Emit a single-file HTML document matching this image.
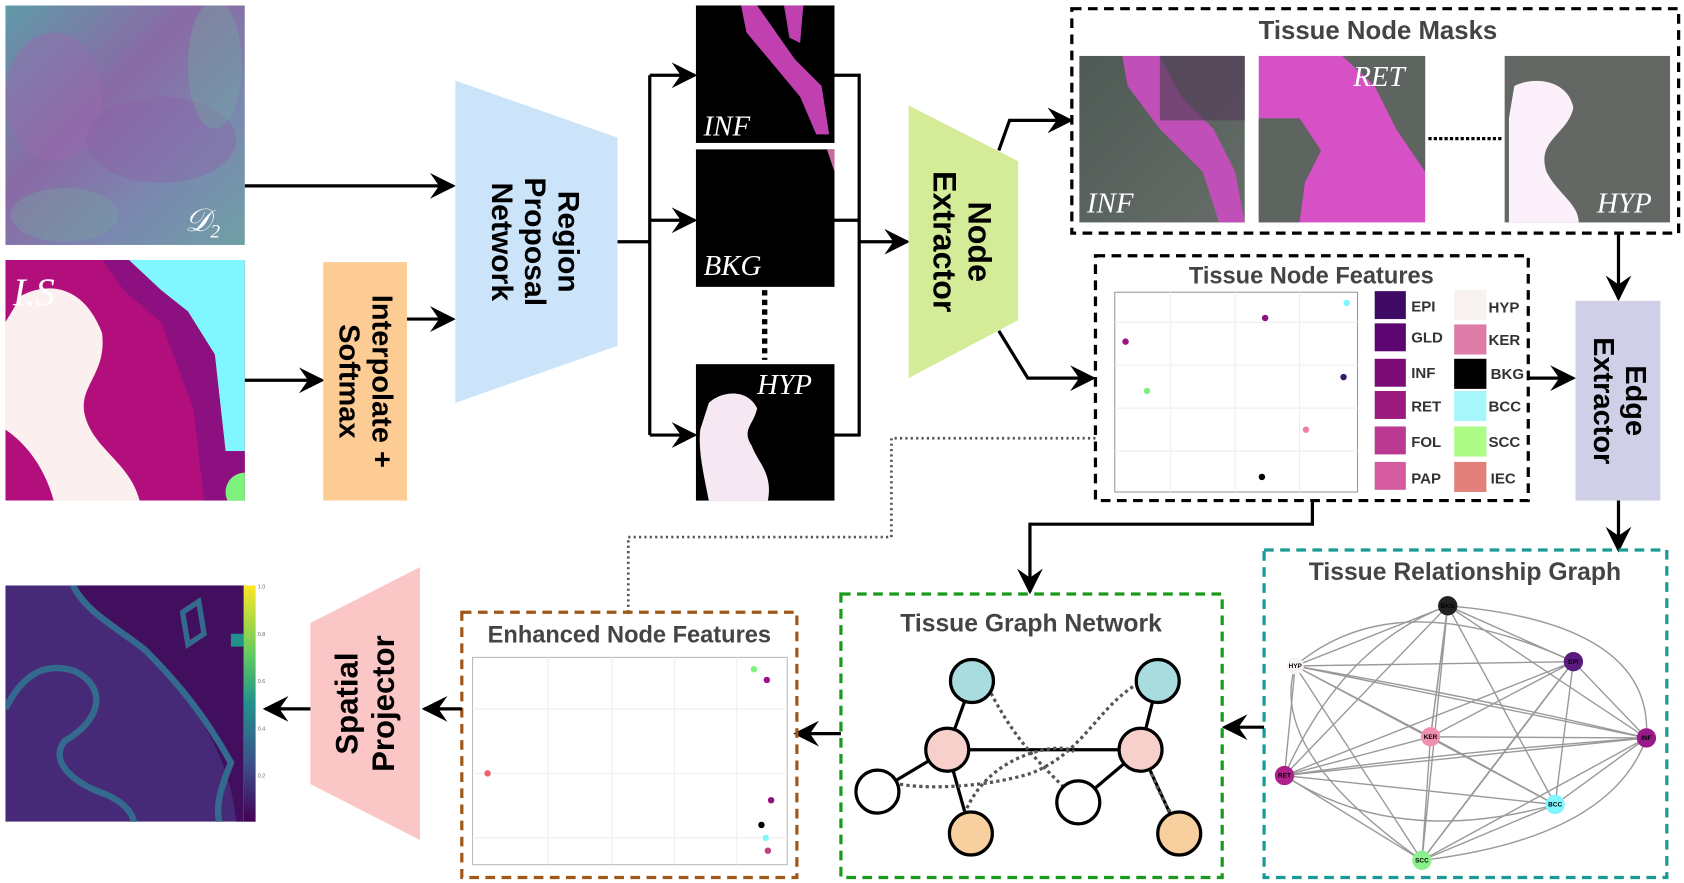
<!DOCTYPE html>
<html><head><meta charset="utf-8"><style>
html,body{margin:0;padding:0;background:#fff;}
svg{display:block;font-family:"Liberation Sans",sans-serif;}
</style></head><body>
<svg width="1684" height="883" viewBox="0 0 1568 822" xmlns="http://www.w3.org/2000/svg">
<defs>
<marker id="AH" viewBox="0 0 10 10" refX="9" refY="5" markerWidth="24" markerHeight="24" markerUnits="userSpaceOnUse" orient="auto">
<path d="M0,0 L10,5 L0,10 L3.5,5 z" fill="#000"/></marker>
<linearGradient id="d2" x1="0" y1="0" x2="1" y2="1">
<stop offset="0" stop-color="#5f9aa8"/><stop offset="0.4" stop-color="#8a6aa5"/><stop offset="0.7" stop-color="#7a88b0"/><stop offset="1" stop-color="#6fa0a6"/></linearGradient>
<linearGradient id="tis" x1="0" y1="0" x2="1" y2="1"><stop offset="0" stop-color="#4e5a55"/><stop offset="1" stop-color="#676d68"/></linearGradient>
<linearGradient id="cb" x1="0" y1="0" x2="0" y2="1"><stop offset="0" stop-color="#fde725"/><stop offset="0.3" stop-color="#5ec962"/><stop offset="0.5" stop-color="#21918c"/><stop offset="0.75" stop-color="#3b528b"/><stop offset="1" stop-color="#440154"/></linearGradient>
<clipPath id="cIS"><rect x="5" y="242" width="223" height="224"/></clipPath>
<clipPath id="cD2"><rect x="5" y="5" width="223" height="223"/></clipPath>
<clipPath id="cHM"><rect x="5" y="545" width="222" height="220"/></clipPath>
</defs>

<!-- D2 image -->
<g clip-path="url(#cD2)">
<rect x="5" y="5" width="223" height="223" fill="url(#d2)"/>
<ellipse cx="50" cy="90" rx="45" ry="60" fill="#9a6ab0" opacity="0.45"/>
<ellipse cx="150" cy="130" rx="70" ry="40" fill="#8e5fa8" opacity="0.4"/>
<ellipse cx="200" cy="60" rx="25" ry="60" fill="#6fae9c" opacity="0.35"/>
<ellipse cx="60" cy="200" rx="50" ry="25" fill="#6fae9c" opacity="0.3"/>
</g>
<text x="172" y="215" font-family="Liberation Serif,serif" font-style="italic" font-size="30" fill="#fff">𝒟<tspan font-size="18" dy="6">2</tspan></text>

<!-- I.S image -->
<g clip-path="url(#cIS)">
<rect x="5" y="242" width="223" height="224" fill="#b20f7c"/>
<path d="M120,242 L228,242 L228,420 L210,420 L200,330 L175,290 L150,270 Z" fill="#80f7ff"/>
<path d="M95,242 L120,242 L150,270 L175,290 L200,330 L210,420 L228,420 L228,466 L190,466 L180,380 L150,300 L115,270 Z" fill="#8c1080"/>
<path d="M20,275 C50,260 80,270 95,310 C100,350 70,360 80,390 C90,420 120,430 130,466 L50,466 C40,430 20,410 5,400 L5,300 Z" fill="#fbeff0"/>
<circle cx="228" cy="458" r="18" fill="#7cf27c"/>
</g>
<text x="12" y="284" font-family="Liberation Serif,serif" font-style="italic" font-size="36" fill="#fff">I.S</text>

<!-- arrows left -->
<line x1="228" y1="173" x2="422" y2="173" stroke="#000" stroke-width="3" marker-end="url(#AH)"/>
<line x1="228" y1="354" x2="300" y2="354" stroke="#000" stroke-width="3" marker-end="url(#AH)"/>
<line x1="379" y1="297" x2="422" y2="297" stroke="#000" stroke-width="3" marker-end="url(#AH)"/>

<!-- Interpolate -->
<rect x="301" y="244" width="78" height="222" fill="#fdcb94"/>
<text transform="translate(340,355) rotate(90)" text-anchor="middle" font-weight="bold" font-size="27"><tspan x="0" y="-7">Interpolate +</tspan><tspan x="0" y="24">Softmax</tspan></text>

<!-- RPN -->
<polygon points="424,75 575,128 575,322 424,375" fill="#cce4fa"/>
<text transform="translate(497,225) rotate(90)" text-anchor="middle" font-weight="bold" font-size="28"><tspan x="0" y="-23">Region</tspan><tspan x="0" y="8">Proposal</tspan><tspan x="0" y="39">Network</tspan></text>

<!-- splitter -->
<polyline points="575,225 605,225" fill="none" stroke="#000" stroke-width="3"/>
<line x1="605" y1="70" x2="605" y2="405" stroke="#000" stroke-width="3"/>
<line x1="605" y1="70" x2="647" y2="70" stroke="#000" stroke-width="3" marker-end="url(#AH)"/>
<line x1="605" y1="205" x2="647" y2="205" stroke="#000" stroke-width="3" marker-end="url(#AH)"/>
<line x1="605" y1="405" x2="647" y2="405" stroke="#000" stroke-width="3" marker-end="url(#AH)"/>

<!-- masks -->
<rect x="648" y="5" width="129" height="128" fill="#000"/>
<path d="M690,5 L705,5 L740,55 L765,80 L772,125 L760,125 L745,90 L720,60 L695,30 Z" fill="#c040b0"/>
<path d="M730,5 L748,5 L745,40 L735,35 Z" fill="#c040b0"/>
<text x="655" y="126" font-family="Liberation Serif,serif" font-style="italic" font-size="27" fill="#fff">INF</text>
<rect x="648" y="139" width="129" height="128" fill="#000"/>
<path d="M770,139 L777,139 L777,160 Z" fill="#c86aa0"/>
<text x="655" y="256" font-family="Liberation Serif,serif" font-style="italic" font-size="27" fill="#fff">BKG</text>
<line x1="712" y1="270" x2="712" y2="335" stroke="#000" stroke-width="5" stroke-dasharray="5,4"/>
<rect x="648" y="339" width="129" height="127" fill="#000"/>
<path d="M660,375 C670,365 695,360 705,380 C702,395 690,400 700,415 C705,430 720,440 715,466 L660,466 C655,440 650,420 652,400 Z" fill="#f6e8f2"/>
<text x="705" y="367" font-family="Liberation Serif,serif" font-style="italic" font-size="27" fill="#fff">HYP</text>

<!-- merge -->
<polyline points="777,70 800,70 800,405 777,405" fill="none" stroke="#000" stroke-width="3"/>
<line x1="777" y1="205" x2="800" y2="205" stroke="#000" stroke-width="3"/>
<line x1="800" y1="225" x2="845" y2="225" stroke="#000" stroke-width="3" marker-end="url(#AH)"/>

<!-- Node extractor -->
<polygon points="846,98 948,150 948,298 846,352" fill="#d4ec98"/>
<text transform="translate(895,225) rotate(90)" text-anchor="middle" font-weight="bold" font-size="30"><tspan x="0" y="-7">Node</tspan><tspan x="0" y="26">Extractor</tspan></text>
<polyline points="930,140 940,112 997,112" fill="none" stroke="#000" stroke-width="3" marker-end="url(#AH)"/>
<polyline points="930,308 957,352 1018,352" fill="none" stroke="#000" stroke-width="3" marker-end="url(#AH)"/>

<!-- Tissue Node Masks -->
<rect x="998" y="8" width="565" height="209" fill="none" stroke="#000" stroke-width="3" stroke-dasharray="9,6"/>
<text x="1283" y="36" text-anchor="middle" font-weight="bold" font-size="24" fill="#444">Tissue Node Masks</text>
<rect x="1005" y="52" width="154" height="155" fill="url(#tis)"/>
<path d="M1045,52 L1080,52 L1100,90 L1130,120 L1150,160 L1159,207 L1135,207 L1120,160 L1080,120 L1050,80 Z" fill="#c050b8"/>
<rect x="1080" y="52" width="79" height="60" fill="#55405a" opacity="0.7"/>
<text x="1012" y="198" font-family="Liberation Serif,serif" font-style="italic" font-size="27" fill="#fff">INF</text>
<rect x="1172" y="52" width="155" height="155" fill="#d650c6"/>
<path d="M1172,110 L1210,110 L1230,140 L1215,170 L1210,207 L1172,207 Z" fill="#5e6460"/>
<path d="M1250,52 L1327,52 L1327,160 L1300,120 L1280,80 Z" fill="#5e6460"/>
<text x="1260" y="80" font-family="Liberation Serif,serif" font-style="italic" font-size="27" fill="#fff">RET</text>
<line x1="1330" y1="129" x2="1398" y2="129" stroke="#000" stroke-width="3" stroke-dasharray="3,2"/>
<rect x="1401" y="52" width="154" height="155" fill="#646864"/>
<path d="M1410,80 C1430,70 1460,75 1465,100 C1460,125 1430,130 1440,160 C1450,180 1470,190 1470,207 L1405,207 L1405,110 Z" fill="#fcf0fa"/>
<text x="1487" y="198" font-family="Liberation Serif,serif" font-style="italic" font-size="27" fill="#fff">HYP</text>
<line x1="1507" y1="217" x2="1507" y2="278" stroke="#000" stroke-width="3" marker-end="url(#AH)"/>

<!-- Tissue Node Features -->
<rect x="1020" y="238" width="403" height="228" fill="none" stroke="#000" stroke-width="3" stroke-dasharray="9,6"/>
<text x="1221" y="264" text-anchor="middle" font-weight="bold" font-size="22" fill="#444">Tissue Node Features</text>
<rect x="1038" y="272" width="226" height="186" fill="#fff" stroke="#999" stroke-width="1"/>
<g stroke="#eee" stroke-width="1">
<line x1="1038" y1="300" x2="1264" y2="300"/><line x1="1038" y1="340" x2="1264" y2="340"/><line x1="1038" y1="380" x2="1264" y2="380"/><line x1="1038" y1="420" x2="1264" y2="420"/>
<line x1="1090" y1="272" x2="1090" y2="458"/><line x1="1150" y1="272" x2="1150" y2="458"/><line x1="1210" y1="272" x2="1210" y2="458"/></g>
<circle cx="1254" cy="282" r="3" fill="#80f7ff"/><circle cx="1178" cy="296" r="3" fill="#8c1080"/>
<circle cx="1048" cy="318" r="3" fill="#a0108a"/><circle cx="1251" cy="351" r="3" fill="#3c1a6a"/>
<circle cx="1068" cy="364" r="3" fill="#7cf27c"/><circle cx="1216" cy="400" r="3" fill="#f080a8"/>
<circle cx="1175" cy="444" r="3" fill="#000"/>
<g font-weight="bold" font-size="14" fill="#333">
<rect x="1280" y="271" width="29" height="26" fill="#3f0a63"/><text x="1314" y="290">EPI</text>
<rect x="1280" y="301" width="29" height="26" fill="#5c0570"/><text x="1314" y="319">GLD</text>
<rect x="1280" y="334" width="29" height="26" fill="#7b0c76"/><text x="1314" y="352">INF</text>
<rect x="1280" y="364" width="29" height="26" fill="#9a1a7e"/><text x="1314" y="383">RET</text>
<rect x="1280" y="397" width="29" height="26" fill="#ba3a92"/><text x="1314" y="416">FOL</text>
<rect x="1280" y="430" width="29" height="26" fill="#d45c9e"/><text x="1314" y="450">PAP</text>
<rect x="1354" y="270" width="30" height="28" fill="#f8f3f0"/><text x="1386" y="291">HYP</text>
<rect x="1354" y="302" width="30" height="28" fill="#de7ca8"/><text x="1386" y="321">KER</text>
<rect x="1354" y="334" width="30" height="28" fill="#000"/><text x="1388" y="353">BKG</text>
<rect x="1354" y="364" width="30" height="28" fill="#a6f6fb"/><text x="1386" y="383">BCC</text>
<rect x="1354" y="397" width="30" height="28" fill="#aefc88"/><text x="1386" y="416">SCC</text>
<rect x="1354" y="430" width="30" height="28" fill="#e4807c"/><text x="1388" y="450">IEC</text>
</g>
<line x1="1423" y1="352" x2="1465" y2="352" stroke="#000" stroke-width="3" marker-end="url(#AH)"/>

<!-- Edge extractor -->
<rect x="1467" y="280" width="79" height="186" fill="#d0cfe8"/>
<text transform="translate(1506,373) rotate(90)" text-anchor="middle" font-weight="bold" font-size="27"><tspan x="0" y="-8">Edge</tspan><tspan x="0" y="22">Extractor</tspan></text>
<line x1="1507" y1="466" x2="1507" y2="512" stroke="#000" stroke-width="3" marker-end="url(#AH)"/>

<!-- Tissue Relationship Graph -->
<rect x="1177" y="512" width="375" height="305" fill="none" stroke="#1a9a96" stroke-width="3" stroke-dasharray="9,6"/>
<text x="1364" y="540" text-anchor="middle" font-weight="bold" font-size="23" fill="#444">Tissue Relationship Graph</text>
<g stroke="#999" stroke-width="1.3" fill="none">
<path d="M1348,564 L1206,620 L1465,616 L1533,687 L1448,749 L1324,801 L1196,722 L1332,686 Z"/>
<path d="M1348,564 L1465,616 M1348,564 L1533,687 M1348,564 L1448,749 M1348,564 L1324,801 M1348,564 L1196,722 M1348,564 L1332,686"/>
<path d="M1206,620 L1533,687 M1206,620 L1448,749 M1206,620 L1324,801 M1206,620 L1196,722 M1206,620 L1332,686"/>
<path d="M1465,616 L1448,749 M1465,616 L1324,801 M1465,616 L1196,722 M1465,616 L1332,686"/>
<path d="M1533,687 L1324,801 M1533,687 L1196,722 M1533,687 L1332,686 M1448,749 L1196,722 M1448,749 L1332,686 M1324,801 L1332,686"/>
<path d="M1348,564 Q1540,580 1533,687 M1206,620 Q1180,700 1324,801 M1196,722 Q1300,790 1448,749 M1206,620 Q1300,540 1465,616"/>
<path d="M1348,564 Q1250,600 1196,722 M1465,616 Q1400,700 1324,801 M1533,687 Q1500,780 1324,801 M1206,620 Q1380,650 1533,687 M1196,722 Q1350,700 1533,687"/>
</g>
<g font-size="6" font-weight="bold" text-anchor="middle">
<circle cx="1348" cy="564" r="9" fill="#222"/><text x="1348" y="566">BKG</text>
<circle cx="1206" cy="620" r="8" fill="#f8f3f0"/><text x="1206" y="622">HYP</text>
<circle cx="1465" cy="616" r="9" fill="#5a1a80"/><text x="1465" y="618">EPI</text>
<circle cx="1533" cy="687" r="9" fill="#9a1a8a"/><text x="1533" y="689">INF</text>
<circle cx="1332" cy="686" r="9" fill="#f090b0"/><text x="1332" y="688">KER</text>
<circle cx="1196" cy="722" r="9" fill="#b0208a"/><text x="1196" y="724">RET</text>
<circle cx="1448" cy="749" r="9" fill="#80f7ff"/><text x="1448" y="751">BCC</text>
<circle cx="1324" cy="801" r="9" fill="#8cf08c"/><text x="1324" y="803">SCC</text>
</g>
<line x1="1177" y1="677" x2="1140" y2="677" stroke="#000" stroke-width="3" marker-end="url(#AH)"/>

<!-- Tissue Graph Network -->
<polyline points="1222,466 1222,488 959,488 959,551" fill="none" stroke="#000" stroke-width="3" marker-end="url(#AH)"/>
<rect x="783" y="553" width="355" height="264" fill="none" stroke="#1a9a1a" stroke-width="3" stroke-dasharray="9,6"/>
<text x="960" y="588" text-anchor="middle" font-weight="bold" font-size="23" fill="#444">Tissue Graph Network</text>
<g stroke="#000" stroke-width="3">
<line x1="905" y1="634" x2="882" y2="698"/><line x1="1078" y1="634" x2="1062" y2="698"/>
<line x1="882" y1="698" x2="1062" y2="698"/><line x1="882" y1="698" x2="817" y2="737"/>
<line x1="882" y1="698" x2="904" y2="776"/><line x1="1062" y1="698" x2="1004" y2="747"/>
<line x1="1062" y1="698" x2="1098" y2="776"/>
</g>
<g stroke="#555" stroke-width="3" stroke-dasharray="3,3" fill="none">
<path d="M920,640 C950,700 980,720 1004,747"/>
<path d="M1060,636 C1020,660 1010,700 960,720 C910,735 850,735 830,728"/>
<path d="M898,758 C920,700 990,690 1000,700"/>
<path d="M1070,715 C1080,740 1090,760 1098,766"/>
</g>
<g stroke="#000" stroke-width="3">
<circle cx="905" cy="634" r="20" fill="#a8dcde"/><circle cx="1078" cy="634" r="20" fill="#a8dcde"/>
<circle cx="882" cy="698" r="20" fill="#f7d0cc"/><circle cx="1062" cy="698" r="20" fill="#f7d0cc"/>
<circle cx="817" cy="737" r="20" fill="#fff"/><circle cx="1004" cy="747" r="20" fill="#fff"/>
<circle cx="904" cy="776" r="20" fill="#f8d0a0"/><circle cx="1098" cy="776" r="20" fill="#f8d0a0"/>
</g>
<line x1="783" y1="683" x2="741" y2="683" stroke="#000" stroke-width="3" marker-end="url(#AH)"/>

<!-- dotted connector -->
<polyline points="1020,408 830,408 830,500 585,500 585,570" fill="none" stroke="#555" stroke-width="2.5" stroke-dasharray="2,3"/>

<!-- Enhanced Node Features -->
<rect x="430" y="570" width="312" height="247" fill="none" stroke="#a0581a" stroke-width="3" stroke-dasharray="9,6"/>
<text x="586" y="598" text-anchor="middle" font-weight="bold" font-size="22" fill="#444">Enhanced Node Features</text>
<rect x="440" y="612" width="293" height="193" fill="#fff" stroke="#bbb" stroke-width="1"/>
<g stroke="#eee" stroke-width="1">
<line x1="510" y1="612" x2="510" y2="805"/><line x1="570" y1="612" x2="570" y2="805"/><line x1="628" y1="612" x2="628" y2="805"/><line x1="686" y1="612" x2="686" y2="805"/>
<line x1="440" y1="660" x2="733" y2="660"/><line x1="440" y1="720" x2="733" y2="720"/><line x1="440" y1="780" x2="733" y2="780"/></g>
<circle cx="702" cy="623" r="3" fill="#7cf27c"/><circle cx="714" cy="633" r="3" fill="#a0108a"/>
<circle cx="454" cy="720" r="3" fill="#f06070"/><circle cx="718" cy="745" r="3" fill="#8c1080"/>
<circle cx="709" cy="768" r="3" fill="#000"/><circle cx="713" cy="780" r="3" fill="#80f7ff"/><circle cx="715" cy="792" r="3" fill="#c04080"/>
<line x1="430" y1="660" x2="395" y2="660" stroke="#000" stroke-width="3" marker-end="url(#AH)"/>

<!-- Spatial Projector -->
<polygon points="289,580 391,528 391,782 289,730" fill="#fbc6c6"/>
<text transform="translate(340,655) rotate(-90)" text-anchor="middle" font-weight="bold" font-size="29"><tspan x="0" y="-7">Spatial</tspan><tspan x="0" y="27">Projector</tspan></text>
<line x1="289" y1="660" x2="247" y2="660" stroke="#000" stroke-width="3" marker-end="url(#AH)"/>

<!-- heatmap -->
<g clip-path="url(#cHM)">
<rect x="5" y="545" width="222" height="220" fill="#462a78"/>
<path d="M70,545 L227,545 L227,765 L220,765 C215,720 200,690 180,660 C160,630 130,600 100,580 C85,570 75,555 70,545 Z" fill="#410f5e"/>
<path d="M5,660 C20,630 40,615 70,625 C100,640 95,670 60,690 C45,710 70,730 100,740 C120,750 125,760 125,770" fill="none" stroke="#336a8e" stroke-width="6"/>
<path d="M68,545 C80,570 110,585 135,605 C165,635 190,665 215,710 C205,735 200,750 205,770" fill="none" stroke="#336a8e" stroke-width="6"/>
<path d="M170,570 L185,560 L190,590 L175,600 Z" fill="none" stroke="#336a8e" stroke-width="5"/>
<rect x="215" y="590" width="12" height="12" fill="#21918c"/>
</g>
<rect x="227" y="545" width="11" height="220" fill="url(#cb)"/>
<g font-size="5" fill="#666"><text x="240" y="548">1.0</text><text x="240" y="592">0.8</text><text x="240" y="636">0.6</text><text x="240" y="680">0.4</text><text x="240" y="724">0.2</text></g>
</svg>
</body></html>
